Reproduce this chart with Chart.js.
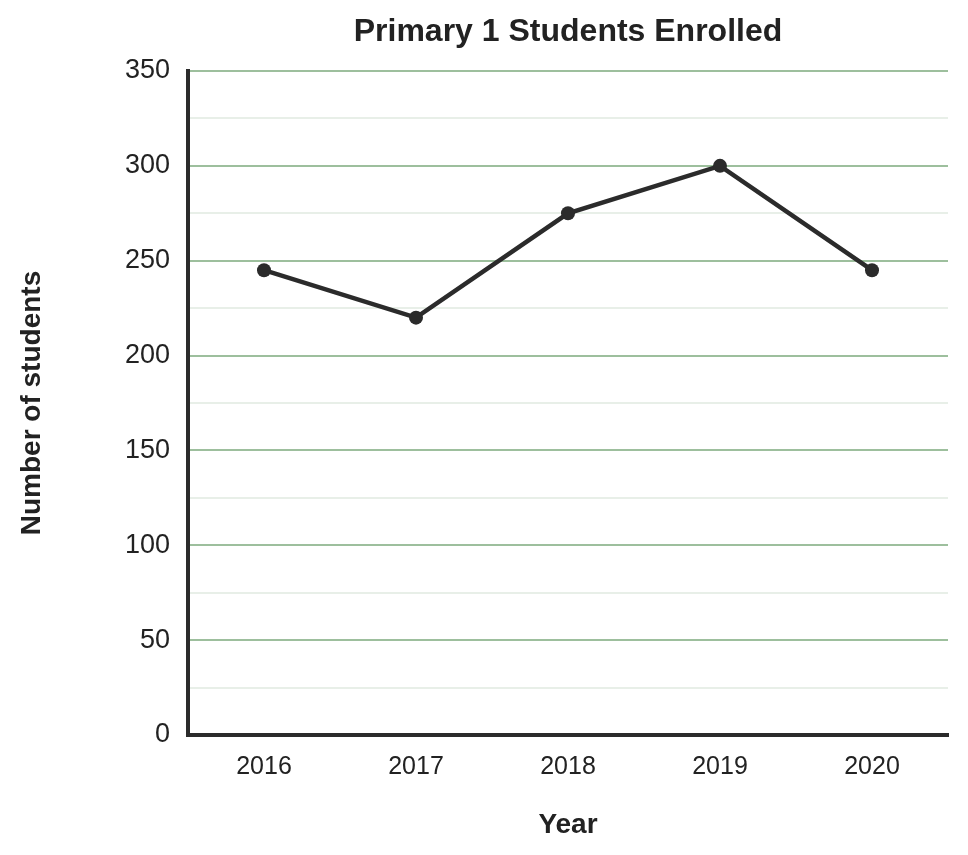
<!DOCTYPE html>
<html>
<head>
<meta charset="utf-8">
<script src="https://cdn.jsdelivr.net/npm/chart.js@4.4.1/dist/chart.umd.min.js"></script>
<style>
  html, body { margin: 0; padding: 0; background: #fff; }
  #wrap { width: 968px; height: 855px; }
</style>
</head>
<body>
<div id="wrap"><canvas id="chart" width="968" height="855"></canvas></div>
<script>
const years = ['2016', '2017', '2018', '2019', '2020'];
const students = [245, 220, 275, 300, 245];
const yMin = 0;
const yMax = 350;
const yStep = 25;

const ink = '#2b2b2b';
const fontFamily = 'Liberation Sans, Arial, sans-serif';

// title centred over the plot area rather than the whole canvas
const plotTitle = {
    id: 'plotTitle',
    afterDraw(chart) {
        const { ctx, chartArea } = chart;
        ctx.save();
        ctx.fillStyle = '#222';
        ctx.font = 'bold 32px ' + fontFamily;
        ctx.textAlign = 'center';
        ctx.textBaseline = 'middle';
        ctx.fillText('Primary 1 Students Enrolled', (chartArea.left + chartArea.right) / 2, 32);
        ctx.restore();
    }
};

new Chart(document.querySelector('#chart'), {
    type: 'line',
    data: {
        labels: years,
        datasets: [
            {
                label: 'Students',
                data: students,
                borderColor: ink,
                backgroundColor: ink,
                borderWidth: 4.5,
                pointRadius: 7,
                pointHoverRadius: 7,
                pointBackgroundColor: ink,
                pointBorderWidth: 0,
                tension: 0
            }
        ]
    },
    plugins: [plotTitle],
    options: {
        responsive: false,
        animation: false,
        layout: { padding: { left: 0, right: 20, top: 71, bottom: 0 } },
        plugins: {
            legend: { display: false },
            tooltip: { enabled: false },
            title: { display: false }
        },
        scales: {
            x: {
                offset: true,
                grid: { display: false, drawTicks: false },
                border: { display: true, color: ink, width: 4 },
                ticks: {
                    color: '#222',
                    padding: 17,
                    font: { family: fontFamily, size: 25 }
                },
                title: {
                    display: true,
                    text: 'Year',
                    color: '#222',
                    font: { family: fontFamily, size: 28, weight: 'bold' },
                    padding: { top: 20, bottom: 13 }
                },
                afterFit: (scale) => { scale.height = 120; }
            },
            y: {
                min: yMin,
                max: yMax,
                grid: {
                    drawTicks: false,
                    lineWidth: 2,
                    color: (ctx) => (ctx.tick && ctx.tick.value % 50 === 0) ? '#9dbf9d' : '#e8efe8'
                },
                border: { display: true, color: ink, width: 4 },
                ticks: {
                    stepSize: yStep,
                    color: '#222',
                    padding: 18,
                    font: { family: fontFamily, size: 27 },
                    callback: (v) => v % 50 === 0 ? v : ''
                },
                title: {
                    display: true,
                    text: 'Number of students',
                    color: '#222',
                    font: { family: fontFamily, size: 28, weight: 'bold' },
                    padding: { top: 15, bottom: 0 }
                },
                afterFit: (scale) => { scale.width = 188; }
            }
        }
    }
});
</script>
</body>
</html>
